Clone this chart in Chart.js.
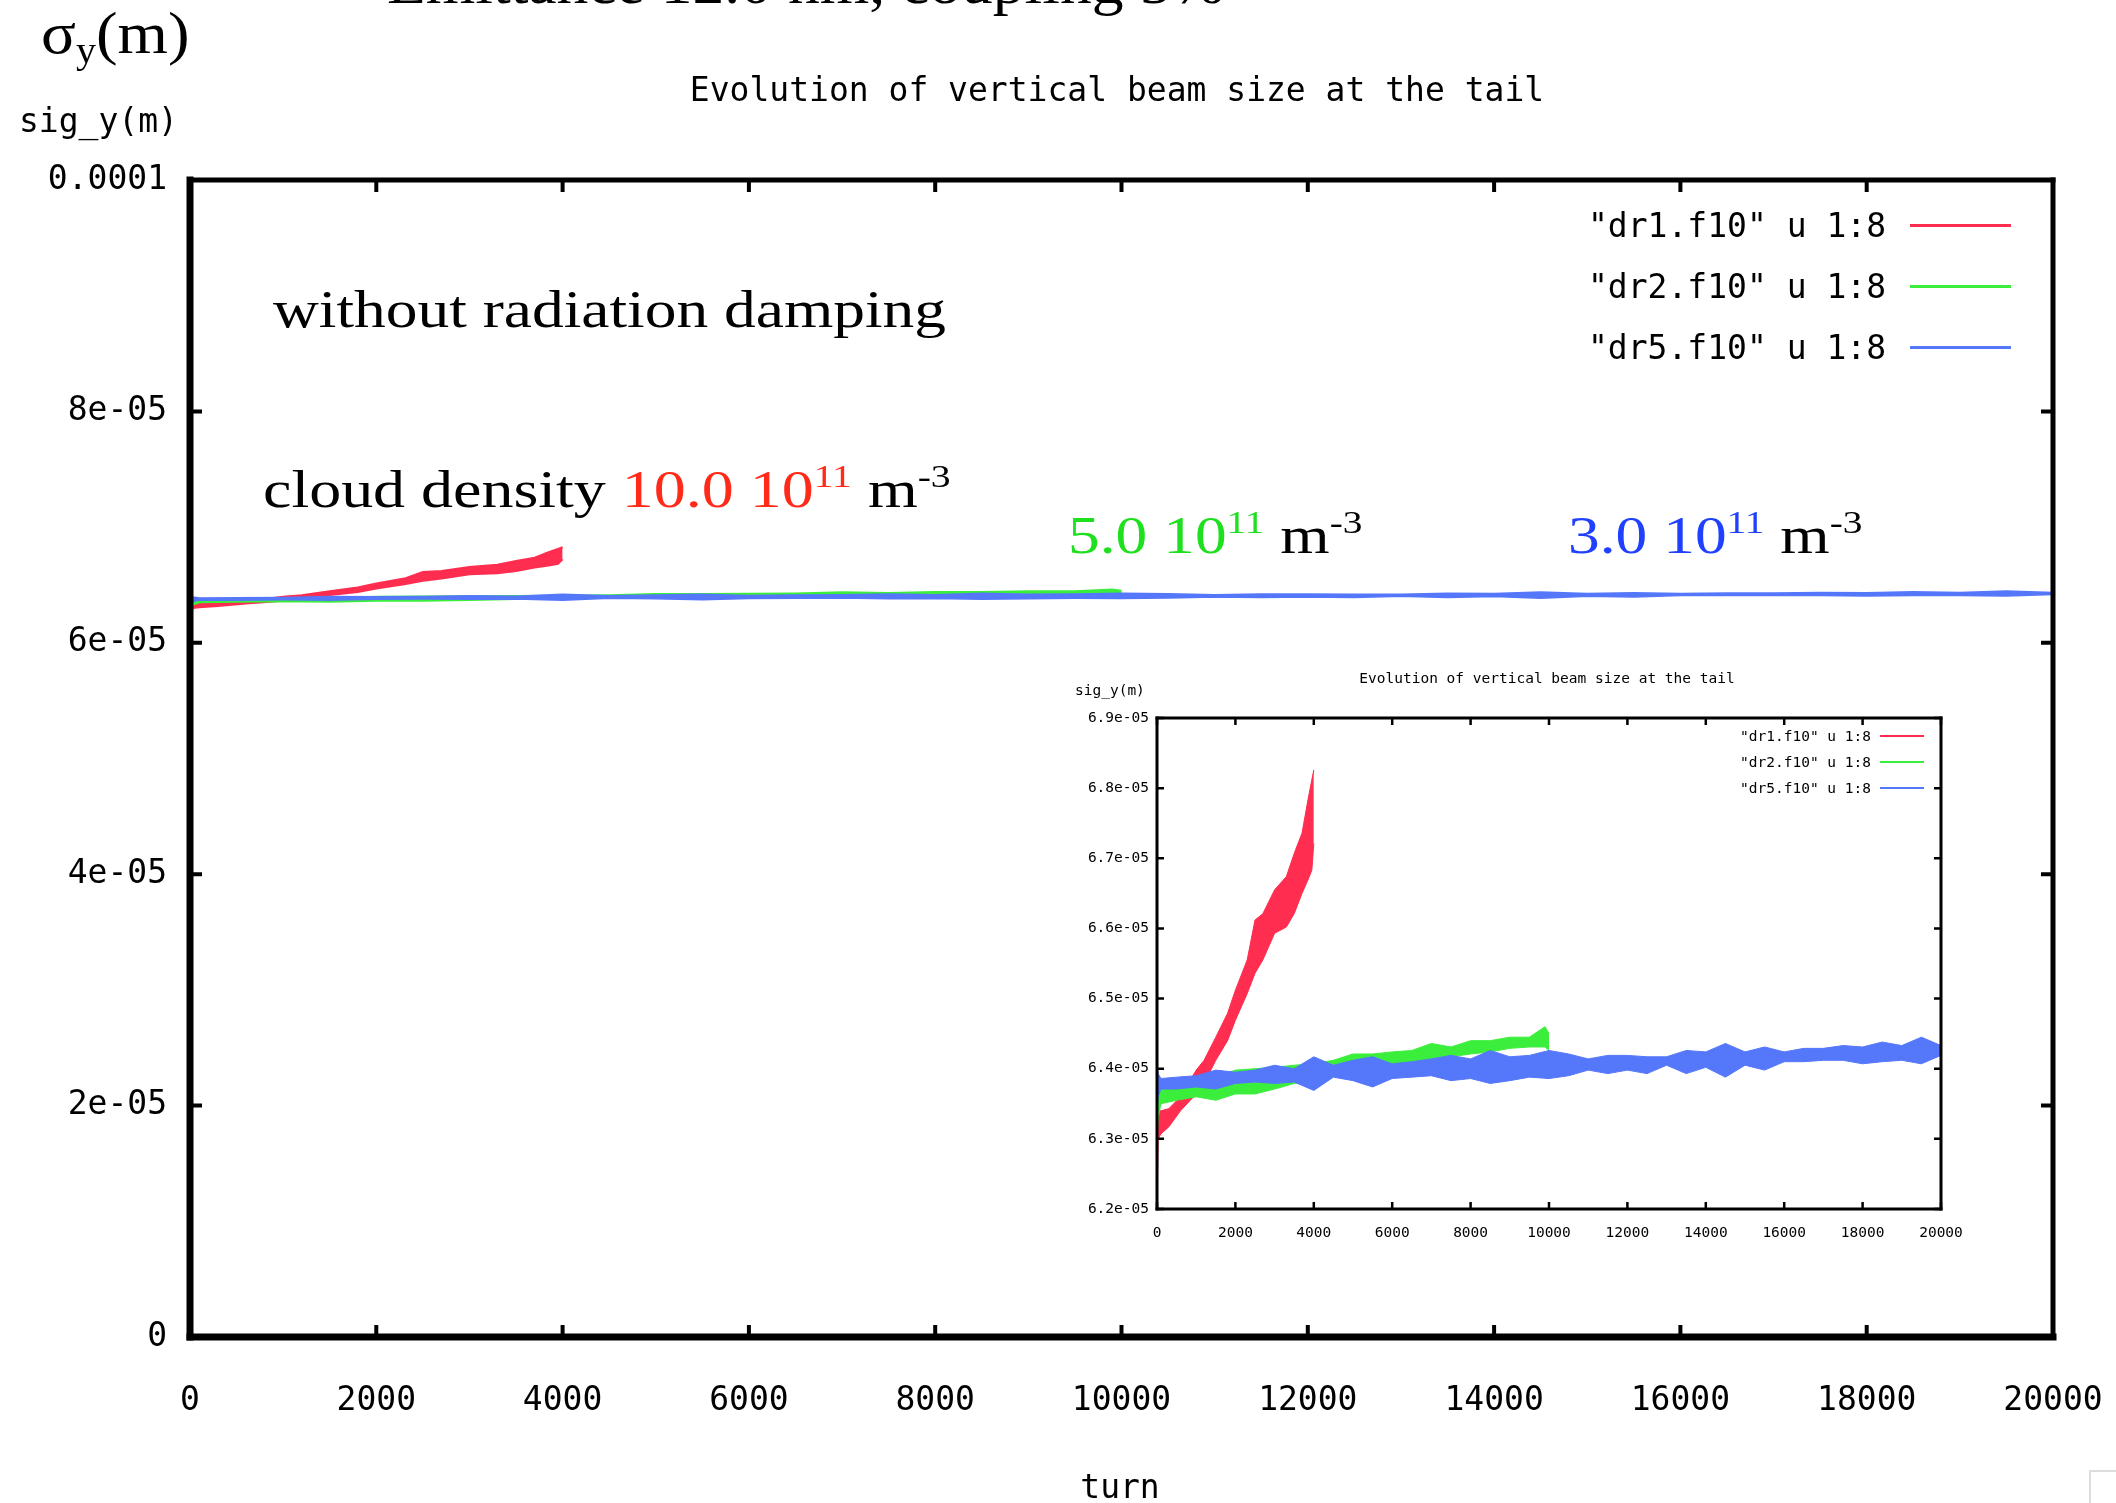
<!DOCTYPE html>
<html>
<head>
<meta charset="utf-8">
<script src="https://cdn.jsdelivr.net/npm/chart.js@4.4.1/dist/chart.umd.min.js"></script>
<style>
html,body{margin:0;padding:0;background:#fff;}
#page{position:relative;width:2116px;height:1503px;overflow:hidden;background:#fff;}
#mainCanvas{position:absolute;left:0;top:0;}
#insetCanvas{position:absolute;left:1060px;top:650px;}
.t{position:absolute;white-space:nowrap;line-height:1;margin:0;}
.mono{font-family:"DejaVu Sans Mono",monospace;color:#000;}
.serif{font-family:"Liberation Serif","Times New Roman",serif;color:#000;transform-origin:0 0;}
.serif sup{font-size:0.62em;vertical-align:0.62em;line-height:0;}
.serif sub{font-size:0.62em;vertical-align:-0.28em;line-height:0;}
.legline{position:absolute;}
.corner{position:absolute;left:2089px;top:1470px;width:40px;height:40px;border-left:2px solid #ddd;border-top:2px solid #ddd;}
</style>
</head>
<body>
<div id="page">
  <canvas id="mainCanvas" width="2116" height="1503" style="width:2116px;height:1503px"></canvas>
  <canvas id="insetCanvas" width="920" height="600" style="width:920px;height:600px"></canvas>

  <div class="t serif" style="left:387px;top:-47px;font-size:60px;transform:scaleX(1.06);">Emittance 12.0 nm, coupling 5%</div>
  <div class="t serif" style="left:41px;top:3px;font-size:60px;transform:scaleX(1.08);">σ<sub>y</sub>(m)</div>

  <div class="t mono" style="left:1117px;top:73px;font-size:33px;transform:translateX(-50%);">Evolution of vertical beam size at the tail</div>
  <div class="t mono" style="left:19px;top:104px;font-size:33px;">sig_y(m)</div>
  <div class="t mono" style="left:1120px;top:1470px;font-size:33px;transform:translateX(-50%);">turn</div>

  <div class="t serif" style="left:273px;top:284px;font-size:52px;transform:scaleX(1.22);">without radiation damping</div>
  <div class="t serif" style="left:263px;top:464px;font-size:52px;transform:scaleX(1.23);">cloud density <span style="color:#ff2a1a">10.0 10<sup>11</sup></span> m<sup>-3</sup></div>
  <div class="t serif" style="left:1068px;top:510px;font-size:52px;transform:scaleX(1.22);"><span style="color:#1ee01e">5.0 10<sup>11</sup></span> m<sup>-3</sup></div>
  <div class="t serif" style="left:1568px;top:510px;font-size:52px;transform:scaleX(1.22);"><span style="color:#2040ff">3.0 10<sup>11</sup></span> m<sup>-3</sup></div>

  <div class="t mono" style="left:1075px;top:683px;font-size:14.5px;">sig_y(m)</div>
  <div class="t mono" style="left:1547px;top:671px;font-size:14.5px;transform:translateX(-50%);">Evolution of vertical beam size at the tail</div>

  <div id="legendMain"></div>
  <div id="legendInset"></div>
  <div class="corner"></div>
</div>

<script>
// ---------------- data ----------------
const seriesNames = ['"dr1.f10" u 1:8', '"dr2.f10" u 1:8', '"dr5.f10" u 1:8'];
const seriesColors = ['#ff2d4f', '#3cee3c', '#5577fa'];

const turnTicks = [0, 2000, 4000, 6000, 8000, 10000, 12000, 14000, 16000, 18000, 20000];
const turnTickLabels = ['0', '2000', '4000', '6000', '8000', '10000', '12000', '14000', '16000', '18000', '20000'];

const mainYTicks = [0, 2e-5, 4e-5, 6e-5, 8e-5, 1e-4];
const mainYTickLabels = ['0', '2e-05', '4e-05', '6e-05', '8e-05', '0.0001'];

const insetYTicks = [6.2e-5, 6.3e-5, 6.4e-5, 6.5e-5, 6.6e-5, 6.7e-5, 6.8e-5, 6.9e-5];
const insetYTickLabels = ['6.2e-05', '6.3e-05', '6.4e-05', '6.5e-05', '6.6e-05', '6.7e-05', '6.8e-05', '6.9e-05'];

// dr1 (cloud density 10.0e11): lower / upper edge of the noisy trace
const redTurns = [0, 30, 100, 300, 600, 1000, 1200, 1500, 1800, 2000, 2300, 2500, 2700, 3000, 3300, 3500, 3700, 3850, 3950, 4000];
const redLow  = [6.200e-5, 6.300e-5, 6.307e-5, 6.317e-5, 6.340e-5, 6.364e-5, 6.379e-5, 6.412e-5, 6.440e-5, 6.469e-5, 6.507e-5, 6.536e-5, 6.555e-5, 6.593e-5, 6.602e-5, 6.621e-5, 6.650e-5, 6.669e-5, 6.683e-5, 6.721e-5];
const redHigh = [6.340e-5, 6.340e-5, 6.340e-5, 6.343e-5, 6.360e-5, 6.398e-5, 6.412e-5, 6.445e-5, 6.479e-5, 6.512e-5, 6.555e-5, 6.612e-5, 6.621e-5, 6.655e-5, 6.674e-5, 6.707e-5, 6.736e-5, 6.783e-5, 6.812e-5, 6.826e-5];

// dr2 (cloud density 5.0e11)
const greenTurns = [0, 30, 100, 500, 1000, 1500, 2000, 2500, 3000, 3500, 4000, 4500, 5000, 5500, 6000, 6500, 7000, 7500, 8000, 8500, 9000, 9500, 9900, 10000];
const greenLow  = [6.300e-5, 6.330e-5, 6.350e-5, 6.355e-5, 6.360e-5, 6.355e-5, 6.364e-5, 6.364e-5, 6.371e-5, 6.379e-5, 6.383e-5, 6.390e-5, 6.398e-5, 6.398e-5, 6.405e-5, 6.407e-5, 6.412e-5, 6.417e-5, 6.421e-5, 6.424e-5, 6.429e-5, 6.431e-5, 6.431e-5, 6.426e-5];
const greenHigh = [6.360e-5, 6.365e-5, 6.371e-5, 6.374e-5, 6.379e-5, 6.388e-5, 6.398e-5, 6.400e-5, 6.402e-5, 6.405e-5, 6.407e-5, 6.412e-5, 6.421e-5, 6.421e-5, 6.424e-5, 6.426e-5, 6.436e-5, 6.431e-5, 6.440e-5, 6.440e-5, 6.445e-5, 6.445e-5, 6.460e-5, 6.450e-5];

// dr5 (cloud density 3.0e11)
const blueTurns = [0, 30, 100, 500, 1000, 1500, 2000, 2500, 3000, 3500, 4000, 4500, 5000, 5500, 6000, 6500, 7000, 7500, 8000, 8500, 9000, 9500, 10000, 10500, 11000, 11500, 12000, 12500, 13000, 13500, 14000, 14500, 15000, 15500, 16000, 16500, 17000, 17500, 18000, 18500, 19000, 19500, 20000];
const blueLow  = [6.345e-5, 6.360e-5, 6.371e-5, 6.371e-5, 6.374e-5, 6.371e-5, 6.379e-5, 6.381e-5, 6.379e-5, 6.381e-5, 6.369e-5, 6.388e-5, 6.383e-5, 6.374e-5, 6.386e-5, 6.388e-5, 6.390e-5, 6.383e-5, 6.386e-5, 6.379e-5, 6.383e-5, 6.388e-5, 6.386e-5, 6.390e-5, 6.398e-5, 6.393e-5, 6.398e-5, 6.393e-5, 6.405e-5, 6.393e-5, 6.402e-5, 6.388e-5, 6.405e-5, 6.398e-5, 6.410e-5, 6.410e-5, 6.412e-5, 6.412e-5, 6.407e-5, 6.410e-5, 6.412e-5, 6.407e-5, 6.419e-5];
const blueHigh = [6.410e-5, 6.393e-5, 6.386e-5, 6.388e-5, 6.390e-5, 6.398e-5, 6.395e-5, 6.398e-5, 6.405e-5, 6.400e-5, 6.417e-5, 6.405e-5, 6.412e-5, 6.417e-5, 6.407e-5, 6.410e-5, 6.414e-5, 6.419e-5, 6.414e-5, 6.426e-5, 6.417e-5, 6.419e-5, 6.426e-5, 6.421e-5, 6.414e-5, 6.419e-5, 6.419e-5, 6.417e-5, 6.417e-5, 6.426e-5, 6.424e-5, 6.436e-5, 6.424e-5, 6.431e-5, 6.424e-5, 6.429e-5, 6.429e-5, 6.433e-5, 6.431e-5, 6.438e-5, 6.433e-5, 6.445e-5, 6.433e-5];

// ---------------- helpers ----------------
function band(turns, low, high, color, width) {
  return [
    { data: turns.map((t, i) => ({ x: t, y: low[i] })), borderColor: color, backgroundColor: color,
      borderWidth: width, pointRadius: 0, fill: false, tension: 0 },
    { data: turns.map((t, i) => ({ x: t, y: high[i] })), borderColor: color, backgroundColor: color,
      borderWidth: width, pointRadius: 0, fill: '-1', tension: 0 }
  ];
}
function buildDatasets(width) {
  // index 0 is drawn last (on top): blue, then green, then red
  return [].concat(
    band(blueTurns, blueLow, blueHigh, seriesColors[2], width),
    band(greenTurns, greenLow, greenHigh, seriesColors[1], width),
    band(redTurns, redLow, redHigh, seriesColors[0], width)
  );
}

const framePlugin = {
  id: 'frame',
  afterDatasetsDraw(chart, args, o) {
    const { ctx, chartArea: a, scales: { x, y } } = chart;
    ctx.save();
    ctx.strokeStyle = '#000';
    ctx.lineCap = 'butt';
    ctx.lineWidth = o.tickWidth;
    ctx.beginPath();
    x.ticks.forEach(t => {
      const p = x.getPixelForValue(t.value);
      ctx.moveTo(p, a.bottom); ctx.lineTo(p, a.bottom - o.tickLen);
      ctx.moveTo(p, a.top); ctx.lineTo(p, a.top + o.tickLen);
    });
    y.ticks.forEach(t => {
      const p = y.getPixelForValue(t.value);
      ctx.moveTo(a.left, p); ctx.lineTo(a.left + o.tickLen, p);
      ctx.moveTo(a.right, p); ctx.lineTo(a.right - o.tickLen, p);
    });
    ctx.stroke();
    ctx.lineCap = 'square';
    const seg = (w, x1, y1, x2, y2) => { ctx.lineWidth = w; ctx.beginPath(); ctx.moveTo(x1, y1); ctx.lineTo(x2, y2); ctx.stroke(); };
    seg(o.left, a.left, a.top, a.left, a.bottom);
    seg(o.bottom, a.left, a.bottom, a.right, a.bottom);
    seg(o.top, a.left, a.top, a.right, a.top);
    seg(o.right, a.right, a.top, a.right, a.bottom);
    ctx.restore();
  }
};

function makeChart(canvas, cfg) {
  return new Chart(canvas, {
    type: 'line',
    data: { datasets: buildDatasets(cfg.lineWidth) },
    plugins: [framePlugin],
    options: {
      responsive: false,
      animation: false,
      devicePixelRatio: 1,
      events: [],
      layout: { padding: cfg.padding },
      plugins: {
        legend: { display: false },
        tooltip: { enabled: false },
        title: { display: false },
        frame: cfg.frame
      },
      scales: {
        x: {
          type: 'linear', min: 0, max: 20000,
          afterBuildTicks: ax => { ax.ticks = turnTicks.map(v => ({ value: v })); },
          ticks: {
            callback: (v, i) => turnTickLabels[i],
            autoSkip: false, maxRotation: 0, minRotation: 0,
            color: '#000', padding: cfg.xPad,
            font: { family: 'DejaVu Sans Mono', size: cfg.fontSize }
          },
          grid: { display: false, drawTicks: false },
          border: { display: false },
          afterFit: s => { s.height = cfg.xHeight; s.paddingLeft = 0; s.paddingRight = 0; }
        },
        y: {
          type: 'linear', min: cfg.yMin, max: cfg.yMax,
          afterBuildTicks: ax => { ax.ticks = cfg.yTicks.map(v => ({ value: v })); },
          ticks: {
            callback: (v, i) => cfg.yLabels[i],
            autoSkip: false,
            color: '#000', padding: cfg.yPad,
            font: { family: 'DejaVu Sans Mono', size: cfg.fontSize }
          },
          grid: { display: false, drawTicks: false },
          border: { display: false },
          afterFit: s => { s.width = cfg.yWidth; s.paddingTop = 0; s.paddingBottom = 0; }
        }
      }
    }
  });
}

makeChart(document.getElementById('mainCanvas'), {
  lineWidth: 2,
  padding: { top: 180, right: 63, bottom: 0, left: 0 },
  xHeight: 166, yWidth: 190, xPad: 45, yPad: 23, fontSize: 33,
  yMin: 0, yMax: 1e-4, yTicks: mainYTicks, yLabels: mainYTickLabels,
  frame: { left: 7, bottom: 7, top: 5, right: 5, tickLen: 12, tickWidth: 4 }
});

makeChart(document.getElementById('insetCanvas'), {
  lineWidth: 1,
  padding: { top: 68, right: 39, bottom: 0, left: 0 },
  xHeight: 41, yWidth: 97, xPad: 16, yPad: 8, fontSize: 14.5,
  yMin: 6.2e-5, yMax: 6.9e-5, yTicks: insetYTicks, yLabels: insetYTickLabels,
  frame: { left: 3, bottom: 3, top: 3, right: 3, tickLen: 7, tickWidth: 2.5 }
});

// legends (gnuplot style: text, then a line sample)
function buildLegend(el, rows, textRight, lineX1, lineX2, size, lineW) {
  seriesNames.forEach((name, i) => {
    const c = rows[i];
    const t = document.createElement('div');
    t.className = 't mono';
    t.style.fontSize = size + 'px';
    t.style.left = textRight + 'px';
    t.style.top = (c - size * 0.5) + 'px';
    t.style.transform = 'translateX(-100%)';
    t.textContent = name;
    el.appendChild(t);
    const l = document.createElement('div');
    l.className = 'legline';
    l.style.left = lineX1 + 'px';
    l.style.width = (lineX2 - lineX1) + 'px';
    l.style.top = (c - lineW / 2) + 'px';
    l.style.height = lineW + 'px';
    l.style.background = seriesColors[i];
    el.appendChild(l);
  });
}
buildLegend(document.getElementById('legendMain'), [225, 286, 347], 1886, 1910, 2011, 33, 3);
buildLegend(document.getElementById('legendInset'), [736, 762, 788], 1871, 1880, 1924, 14.5, 2);
</script>
</body>
</html>
